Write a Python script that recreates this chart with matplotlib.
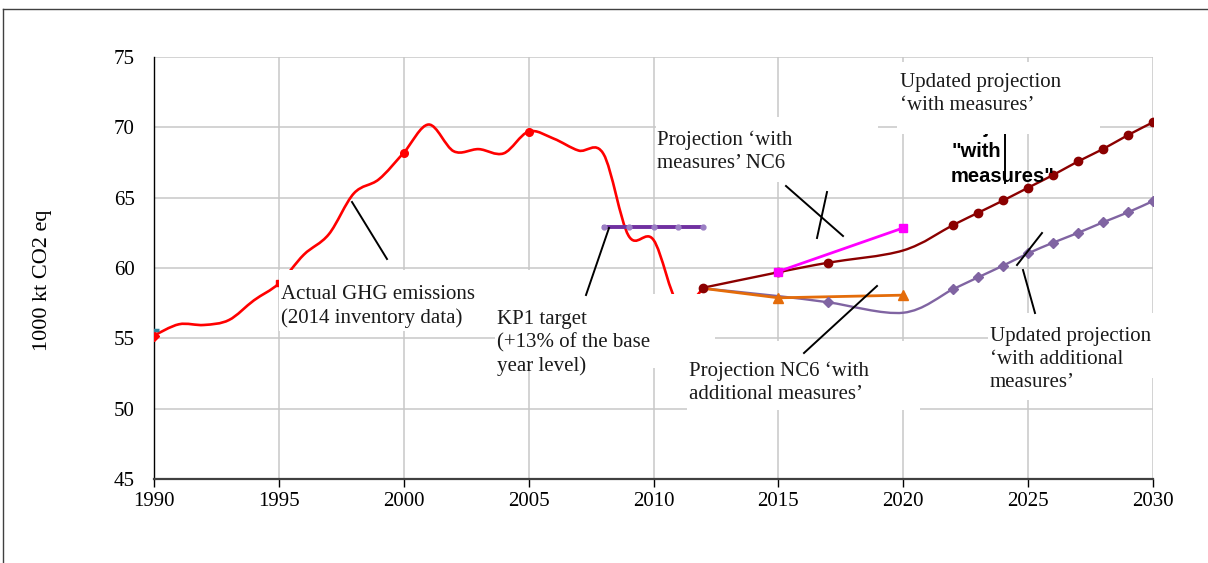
import numpy as np
import matplotlib
matplotlib.use('Agg')
import matplotlib.pyplot as plt
from matplotlib.path import Path
from matplotlib.patches import PathPatch, Rectangle
from matplotlib.lines import Line2D

W, H, DPI = 1208, 563, 100

# ---------------- data ----------------
actual_years = [1990, 1991, 1992, 1993, 1994, 1995, 1996, 1997, 1998, 1999, 2000,
                2001, 2002, 2003, 2004, 2005, 2006, 2007, 2008, 2009, 2010, 2011, 2012]
actual_values = [55.2, 56.0, 55.95, 56.3, 57.7, 58.9, 60.95, 62.4, 65.3, 66.3, 68.2,
                 70.2, 68.3, 68.45, 68.15, 69.7, 69.2, 68.35, 68.1, 62.3, 62.0, 57.4, 58.55]
actual_marker_years = [1990, 1995, 2000, 2005]

base_year = [1990]
base_value = [55.6]

kp1_years = [2008, 2009, 2010, 2011, 2012]
kp1_values = [62.9, 62.9, 62.9, 62.9, 62.9]

nc6_wm_years = [2015, 2020]
nc6_wm_values = [59.75, 62.85]

nc6_wam_years = [2012, 2015, 2020]
nc6_wam_values = [58.55, 57.88, 58.07]

upd_years = [2012, 2015, 2017, 2020, 2022, 2023, 2024, 2025, 2026, 2027, 2028, 2029, 2030]
upd_wm_values = [58.6, 59.7, 60.38, 61.25, 63.06, 63.93, 64.8, 65.71, 66.61, 67.58, 68.46, 69.45, 70.36]
upd_wam_values = [58.55, 58.0, 57.56, 56.82, 58.5, 59.34, 60.17, 61.04, 61.8, 62.5, 63.25, 63.96, 64.76]
upd_wm_marker_years = [2012, 2015, 2017, 2022, 2023, 2024, 2025, 2026, 2027, 2028, 2029, 2030]
upd_wam_marker_years = [2017, 2022, 2023, 2024, 2025, 2026, 2027, 2028, 2029, 2030]

x_ticks = [1990, 1995, 2000, 2005, 2010, 2015, 2020, 2025, 2030]
y_ticks = [45, 50, 55, 60, 65, 70, 75]
y_label = "1000 kt CO2 eq"

# ---------------- helpers ----------------
SERIF = 'Liberation Serif'


def smooth_path(xs, ys):
    pts = np.column_stack([xs, ys]).astype(float)
    n = len(pts)
    verts = [pts[0]]
    codes = [Path.MOVETO]
    for i in range(n - 1):
        p0 = pts[i - 1] if i > 0 else pts[i]
        p1 = pts[i]
        p2 = pts[i + 1]
        p3 = pts[i + 2] if i + 2 < n else pts[i + 1]
        c1 = p1 + (p2 - p0) / 6.0
        c2 = p2 - (p3 - p1) / 6.0
        verts += [c1, c2, p2]
        codes += [Path.CURVE4] * 3
    return Path(verts, codes)


def subset(years, values, keep):
    d = dict(zip(years, values))
    return list(keep), [d[k] for k in keep]


fig = plt.figure(figsize=(W / DPI, H / DPI), dpi=DPI)
fig.patch.set_facecolor('white')
ax = fig.add_axes([154 / W, 1 - 479 / H, (1153 - 154) / W, (479 - 57) / H])

ax.set_xlim(1990, 2030)
ax.set_ylim(45, 75)
ax.set_xticks(x_ticks)
ax.set_yticks(y_ticks)
ax.set_xticklabels([str(t) for t in x_ticks], family=SERIF, fontsize=15)
ax.set_yticklabels([str(t) for t in y_ticks], family=SERIF, fontsize=15)
ax.grid(True, color='#C8C8C8', lw=1.1)
ax.set_axisbelow(True)
for s in ['top', 'right']:
    ax.spines[s].set_visible(False)
ax.spines['left'].set_color('black')
ax.spines['left'].set_linewidth(1.0)
ax.spines['bottom'].set_color('#404040')
ax.spines['bottom'].set_linewidth(1.6)
ax.tick_params(axis='x', direction='out', length=6, width=1, pad=3, colors='black')
ax.tick_params(axis='y', length=0, pad=14)

# actual emissions (smoothed)
ax.add_patch(PathPatch(smooth_path(actual_years, actual_values), fill=False,
                       edgecolor='#FF0000', lw=1.9, zorder=3))
my, mv = subset(actual_years, actual_values, actual_marker_years)
ax.plot(my[0:1], mv[0:1], ls='none', marker='D', ms=5.5, color='#FF0000', zorder=4)
ax.plot(my[1:2], mv[1:2], ls='none', marker='s', ms=4.5, color='#FF0000', zorder=4)
ax.plot(my[2:], mv[2:], ls='none', marker='o', ms=5.5, color='#FF0000', zorder=4)
ax.plot(base_year, base_value, ls='none', marker='_', ms=7, mew=2.5, color='#31859C', zorder=5)

# KP1 target
ax.plot(kp1_years, kp1_values, color='#7030A0', lw=2.8, marker='o', ms=3.5,
        mfc='#9B7FC4', mec='#9B7FC4', zorder=4)

# updated projection with measures
ax.add_patch(PathPatch(smooth_path(upd_years, upd_wm_values), fill=False,
                       edgecolor='#8B0000', lw=1.7, zorder=4))
my, mv = subset(upd_years, upd_wm_values, upd_wm_marker_years)
ax.plot(my, mv, ls='none', marker='o', ms=6, color='#8B0000', zorder=5)

# updated projection with additional measures
ax.add_patch(PathPatch(smooth_path(upd_years, upd_wam_values), fill=False,
                       edgecolor='#8064A2', lw=1.7, zorder=4))
my, mv = subset(upd_years, upd_wam_values, upd_wam_marker_years)
ax.plot(my, mv, ls='none', marker='D', ms=5, color='#8064A2', zorder=5)

# NC6 with additional measures
ax.plot(nc6_wam_years, nc6_wam_values, color='#E46C0A', lw=2.0, marker='^', ms=6.5,
        markevery=[1, 2], zorder=4)

# NC6 with measures
ax.plot(nc6_wm_years, nc6_wm_values, color='#FF00FF', lw=2.0, marker='s', ms=5.5, zorder=6)

# ---------------- overlay: boxes, labels, leader lines ----------------
def px_rect(x0, y0, x1, y1, z=2):
    fig.add_artist(Rectangle((x0 / W, 1 - y1 / H), (x1 - x0) / W, (y1 - y0) / H,
                             transform=fig.transFigure, facecolor='white',
                             edgecolor='none', zorder=z))


def px_text(x, y, s, z=3, **kw):
    params = dict(ha='left', va='top', fontsize=15, family=SERIF, linespacing=1.28,
                  color='#1a1a1a', zorder=z)
    params.update(kw)
    fig.text(x / W, 1 - y / H, s, **params)


def px_line(x0, y0, x1, y1, z=3):
    fig.add_artist(Line2D([x0 / W, x1 / W], [1 - y0 / H, 1 - y1 / H],
                          transform=fig.transFigure, color='black', lw=1.4, zorder=z))


# bold hidden label (under top-right box)
px_text(951, 118, 'Projection\n"with\nmeasures"', z=1.5, family='Liberation Sans',
        fontweight='bold', fontsize=14.5, linespacing=1.35, color='black')
px_line(1005, 120, 1005, 183, z=1.5)

px_rect(279, 270, 540, 331)      # actual GHG
px_rect(495, 294, 715, 368)      # KP1
px_rect(656, 117, 878, 182)      # NC6 wm
px_rect(897, 62, 1100, 134)      # updated wm
px_rect(988, 313, 1155, 378)     # updated wam
px_rect(988, 378, 1080, 400)
px_rect(687, 341, 920, 410)      # NC6 wam

px_text(281, 285, 'Actual GHG emissions\n(2014 inventory data)')
px_text(497, 310, 'KP1 target\n(+13% of the base\nyear level)')
px_text(657, 131, 'Projection \u2018with\nmeasures\u2019 NC6')
px_text(900, 73, 'Updated projection\n\u2018with measures\u2019')
px_text(990, 327, 'Updated projection\n\u2018with additional\nmeasures\u2019')
px_text(689, 362, 'Projection NC6 \u2018with\nadditional measures\u2019')

px_line(352, 202, 387, 259)
px_line(586, 295, 609, 228)
px_line(786, 186, 843, 236)
px_line(827, 192, 817, 238)
px_line(804, 353, 877, 286)
px_line(1017, 265, 1042, 233)
px_line(1023, 270, 1035, 313)

# y label
fig.text(42 / W, 1 - 280 / H, y_label, rotation=90, ha='center', va='center',
         fontsize=16, family=SERIF, color='black')

# outer frame fragments
fig.add_artist(Line2D([3 / W, 1], [1 - 9 / H, 1 - 9 / H], transform=fig.transFigure,
                      color='#404040', lw=1.0, zorder=6))
fig.add_artist(Line2D([3 / W, 3 / W], [0, 1 - 9 / H], transform=fig.transFigure,
                      color='#404040', lw=1.0, zorder=6))

fig.savefig('out.png', dpi=DPI, facecolor='white')
